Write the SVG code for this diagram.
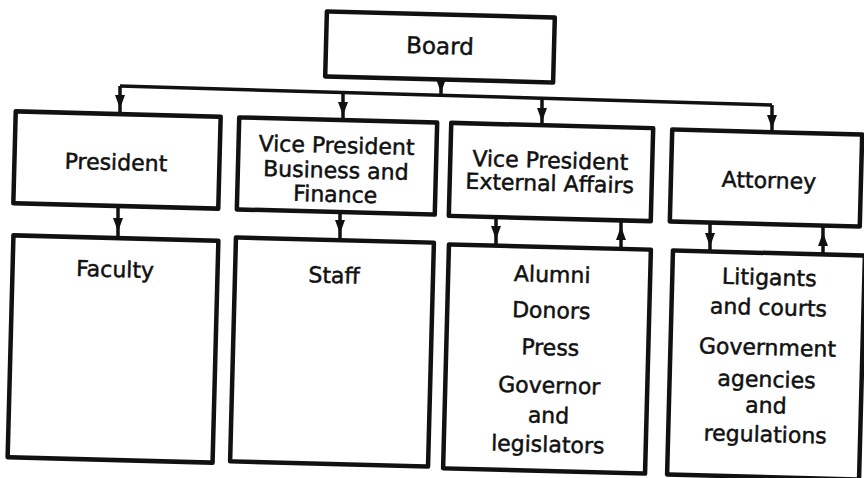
<svg xmlns="http://www.w3.org/2000/svg" width="864" height="478" viewBox="0 0 864 478">
<defs>
<style>
.box{fill:#fff;stroke:#111;stroke-width:4.5;stroke-linejoin:round}
.t{font-family:"DejaVu Sans","Liberation Sans",sans-serif;font-size:22px;fill:#111;stroke:#111;stroke-width:0.5;text-anchor:middle}
.c{fill:none;stroke:#111;stroke-width:3.5;stroke-linejoin:round}
.a{marker-mid:url(#arr)}
</style>
<marker id="arr" viewBox="-14 -7 16 14" markerWidth="16" markerHeight="14" refX="0" refY="0" orient="auto" markerUnits="userSpaceOnUse">
<path d="M1.5,0 L-12,-5 L-12,5 Z" fill="#111"/>
</marker>
</defs>
<rect width="864" height="478" fill="#fff"/>
<g id="connectors">
<polyline class="c" points="120,86 772,105"/>
<path class="c a" d="M120,86 L120,107 L120,114"/>
<path class="c a" d="M343,92.5 L343,114 L343,120"/>
<path class="c a" d="M542,98.3 L542,120 L542,125.5"/>
<path class="c a" d="M772,105 L772,127 L772,132.5"/>
<path class="c a" d="M441,79.5 L441,91 L441,95.4"/>
<path class="c a" d="M118,206 L118,230 L118,238"/>
<path class="c a" d="M340,212 L340,232 L340,240"/>
<path class="c a" d="M496,217 L496,238 L496,246"/>
<path class="c a" d="M621,249 L621,228 L621,220"/>
<path class="c a" d="M710,222.5 L710,245 L710,251.5"/>
<path class="c a" d="M823,254.5 L823,234 L823,225.5"/>
</g>
<g id="board" transform="rotate(1.5 440 47)">
<rect class="box" x="326" y="14.5" width="228" height="65"/>
<text class="t" x="440" y="54" style="font-size:23px">Board</text>
</g>
<g id="president" transform="rotate(1.5 117 160)">
<rect class="box" x="14.5" y="114" width="205" height="92"/>
<text class="t" x="116" y="170">President</text>
</g>
<g id="vp-business" transform="rotate(1.5 337 166)">
<rect class="box" x="238" y="120" width="198" height="92"/>
<text class="t" x="336" y="153">Vice President</text>
<text class="t" x="336" y="178">Business and</text>
<text class="t" x="336" y="202">Finance</text>
</g>
<g id="vp-external" transform="rotate(1.5 551 172)">
<rect class="box" x="450" y="125.5" width="202" height="93"/>
<text class="t" x="550" y="168">Vice President</text>
<text class="t" x="550" y="191">External Affairs</text>
</g>
<g id="attorney" transform="rotate(1.5 766 178)">
<rect class="box" x="671" y="132" width="190" height="92"/>
<text class="t" x="769" y="188">Attorney</text>
</g>
<g id="faculty" transform="rotate(1.5 113 349)">
<rect class="box" x="10.5" y="238" width="205" height="222"/>
<text class="t" x="113" y="277">Faculty</text>
</g>
<g id="staff" transform="rotate(1.5 332 352)">
<rect class="box" x="233" y="240" width="198" height="224"/>
<text class="t" x="332" y="283">Staff</text>
</g>
<g id="external-publics" transform="rotate(1.5 547 359)">
<rect class="box" x="446" y="247" width="202" height="224"/>
<text class="t" x="550" y="282">Alumni</text>
<text class="t" x="550" y="318">Donors</text>
<text class="t" x="550" y="355">Press</text>
<text class="t" x="550" y="393">Governor</text>
<text class="t" x="550" y="423">and</text>
<text class="t" x="550" y="452">legislators</text>
</g>
<g id="legal-publics" transform="rotate(1.5 766 365)">
<rect class="box" x="670" y="253" width="192" height="224"/>
<text class="t" x="767" y="285">Litigants</text>
<text class="t" x="767" y="315">and courts</text>
<text class="t" x="767" y="355">Government</text>
<text class="t" x="767" y="387">agencies</text>
<text class="t" x="767" y="413">and</text>
<text class="t" x="767" y="442">regulations</text>
</g>
</svg>
